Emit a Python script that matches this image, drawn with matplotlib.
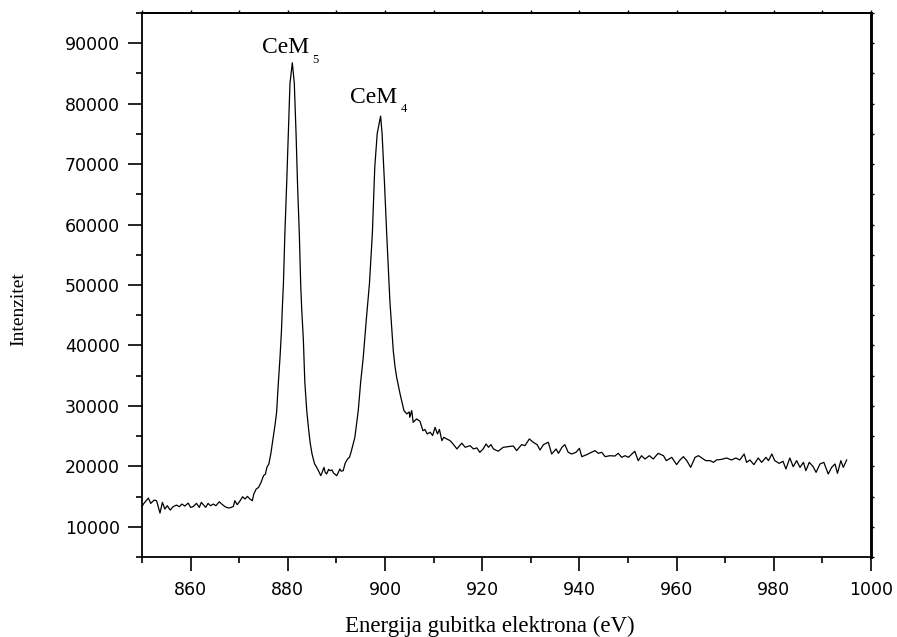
import matplotlib
matplotlib.use("Agg")
import matplotlib.pyplot as plt
from matplotlib.ticker import MultipleLocator

# EELS spectrum, Ce M4,5 edges
energy = [
    850.0, 850.4, 851.3, 851.8, 852.5, 853.0, 853.7, 854.2, 854.7, 855.2,
    855.8, 856.4, 857.1, 857.7, 858.2, 858.8, 859.5, 860.0, 860.5, 861.2,
    861.8, 862.2, 862.8, 863.1, 863.6, 864.1, 864.7, 865.2, 865.9, 866.4,
    867.1, 867.8, 868.4, 868.8, 869.1, 869.6, 870.2, 870.7, 871.2, 871.7,
    872.2, 872.7, 873.0, 873.5, 874.0, 874.5, 875.0, 875.4, 875.7, 876.1,
    876.5, 876.9, 877.4, 877.7, 878.0, 878.4, 878.7, 878.87, 879.1, 879.4,
    879.77, 880.1, 880.45, 880.93, 881.34, 881.7, 882.0, 882.37, 882.65, 882.86,
    883.2, 883.5, 883.9, 884.3, 884.6, 885.0, 885.5, 885.9, 886.3, 886.8,
    887.45, 887.7, 888.0, 888.4, 888.7, 889.1, 889.4, 890.06, 890.4, 890.7,
    891.0, 891.4, 891.8, 892.3, 892.7, 893.1, 893.8, 894.5, 895.0, 895.5,
    896.2, 896.8, 897.4, 897.9, 898.4, 899.1, 899.4, 899.9, 900.35, 901.0,
    901.7, 902.06, 902.4, 903.1, 903.9, 904.5, 905.0, 905.1, 905.5, 905.8,
    906.5, 907.2, 907.8, 908.2, 908.7, 909.3, 909.8, 910.3, 910.8, 911.2,
    911.7, 912.1, 912.7, 913.4, 914.0, 914.8, 915.8, 916.5, 917.5, 918.2,
    918.9, 919.5, 920.2, 920.8, 921.3, 921.8, 922.3, 923.3, 924.3, 925.4,
    926.4, 927.1, 928.1, 928.8, 929.7, 930.5, 931.3, 931.9, 932.6, 933.6,
    934.3, 935.2, 935.7, 936.4, 937.0, 937.7, 938.4, 939.3, 940.0, 940.5,
    941.5, 942.5, 943.2, 943.9, 944.6, 945.3, 946.3, 947.3, 948.0, 948.7,
    949.4, 950.1, 950.8, 951.4, 952.1, 952.8, 953.5, 954.4, 955.2, 956.2,
    957.3, 957.9, 959.0, 960.0, 960.7, 961.4, 962.1, 962.9, 963.8, 964.5,
    965.2, 966.0, 966.9, 967.6, 968.2, 969.3, 970.3, 971.3, 972.2, 973.0,
    973.9, 974.4, 975.1, 975.9, 976.8, 977.5, 978.4, 978.9, 979.6, 980.2,
    981.1, 981.9, 982.5, 983.3, 984.0, 984.7, 985.4, 986.1, 986.6, 987.3,
    988.1, 988.7, 989.5, 990.3, 991.2, 991.9, 992.6, 993.1, 993.8, 994.3,
    995.0,
]
intensity = [
    13370, 13870, 14750, 13870, 14420, 14310, 12270, 14040, 12930, 13480,
    12760, 13320, 13590, 13320, 13760, 13430, 13920, 13210, 13320, 13870,
    13210, 14040, 13480, 13210, 13870, 13480, 13760, 13480, 14140, 13760,
    13320, 13100, 13210, 13370, 14310, 13650, 14310, 14970, 14590, 15030,
    14590, 14310, 15410, 16250, 16520, 17350, 18450, 18730, 19830, 20390,
    22040, 24250, 27010, 28940, 33080, 38050, 42470, 46070, 50220, 58500,
    66780, 75070, 83350, 86770, 83350, 75070, 66780, 58500, 50220, 46070,
    41000, 34000, 29200, 26000, 23900, 22000, 20430, 19900, 19280, 18450,
    19830, 19000, 18730, 19500, 19280, 19400, 18900, 18450, 19000, 19560,
    19200, 19280, 20500, 21220, 21500, 22600, 24800, 29220, 34000, 37800,
    44700, 50220, 58500, 69540, 75070, 77940, 75070, 66780, 58500, 47450,
    39160, 36500, 34740, 31990, 29220, 28670, 29000, 28110, 29220, 27280,
    27840, 27450, 25900, 26100, 25360, 25640, 25090, 26450, 25360, 26100,
    24250, 24800, 24530, 24250, 23700, 22880, 23840, 23150, 23420, 22880,
    23050, 22320, 22880, 23700, 23150, 23600, 22880, 22500, 23140, 23260,
    23370, 22600, 23590, 23420, 24530, 23980, 23590, 22700, 23590, 23980,
    22040, 22870, 22150, 23140, 23590, 22320, 22040, 22320, 22980, 21600,
    21930, 22320, 22600, 22150, 22320, 21600, 21760, 21700, 22150, 21490,
    21760, 21490, 22040, 22480, 20940, 21760, 21210, 21760, 21210, 22150,
    21760, 20940, 21490, 20280, 21050, 21600, 20940, 19830, 21490, 21760,
    21380, 20940, 20940, 20660, 21050, 21160, 21380, 21050, 21380, 21050,
    22040, 20660, 21050, 20280, 21380, 20660, 21490, 20940, 22040, 20940,
    20490, 20830, 19560, 21380, 19940, 20940, 19830, 20660, 19280, 20660,
    19940, 19000, 20390, 20660, 18730, 19830, 20390, 18840, 20940, 19830,
    21050,
]

xticks = [860, 880, 900, 920, 940, 960, 980, 1000]
yticks = [10000, 20000, 30000, 40000, 50000, 60000, 70000, 80000, 90000]

serif = "Liberation Serif"

fig = plt.figure(figsize=(8.97, 6.37), dpi=100)
ax = fig.add_axes([0.1583, 0.1256, 0.8127, 0.854])

ax.plot(energy, intensity, color="black", lw=0.9)

ax.set_xlim(850, 1000)
ax.set_ylim(5000, 95000)
ax.set_xticks(xticks)
ax.set_yticks(yticks)
ax.xaxis.set_minor_locator(MultipleLocator(10))
ax.yaxis.set_minor_locator(MultipleLocator(5000))

ax.tick_params(which="major", direction="out", length=10, width=1.2, labelsize=12.5)
ax.tick_params(which="minor", direction="out", length=4.5, width=1.2)
ax.tick_params(axis="x", which="both", pad=7)
ax.tick_params(axis="y", which="major", pad=6)

# small marks on the top and right frame
top = ax.secondary_xaxis("top")
top.xaxis.set_major_locator(MultipleLocator(10))
top.tick_params(direction="out", length=2, width=1.0, labeltop=False)
right = ax.secondary_yaxis("right")
right.yaxis.set_major_locator(MultipleLocator(5000))
right.tick_params(direction="out", length=2, width=1.0, labelright=False)

for side in ["left", "bottom", "top"]:
    ax.spines[side].set_linewidth(1.3)
ax.spines["right"].set_linewidth(1.8)
top.spines["top"].set_linewidth(1.3)
right.spines["right"].set_linewidth(1.8)

for lab in ax.get_xticklabels() + ax.get_yticklabels():
    lab.set_family("DejaVu Sans")

# peak labels
ax.text(874.7, 88380, "CeM", family=serif, fontsize=17, ha="left", va="baseline")
ax.text(885.0, 86720, "5", family=serif, fontsize=9, ha="left", va="baseline")
ax.text(892.9, 80140, "CeM", family=serif, fontsize=17, ha="left", va="baseline")
ax.text(903.3, 78650, "4", family=serif, fontsize=9, ha="left", va="baseline")

fig.text(490 / 897, 5 / 637, "Energija gubitka elektrona (eV)", family=serif,
         fontsize=16.5, ha="center", va="baseline")
fig.text(19 / 897, 1 - 309 / 637, "Intenzitet", family=serif, fontsize=14,
         rotation=90, ha="center", va="center")

fig.savefig("out.png", dpi=100)
